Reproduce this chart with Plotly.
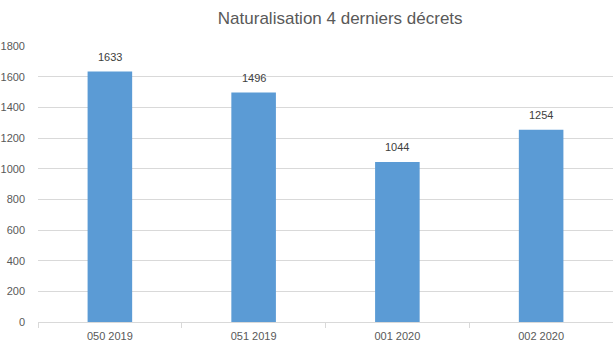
import plotly.graph_objects as go

categories = ["050 2019", "051 2019", "001 2020", "002 2020"]
values = [1633, 1496, 1044, 1254]
y_ticks = [0, 200, 400, 600, 800, 1000, 1200, 1400, 1600, 1800]

fig = go.Figure(go.Bar(
    x=categories, y=values, width=0.31,
    marker=dict(color="#5B9BD5", line=dict(width=0)),
    hoverinfo="x+y",
))
for c, v in zip(categories, values):
    fig.add_annotation(x=c, y=v, text=str(v), showarrow=False, yanchor="bottom",
                       yshift=7, font=dict(size=11, color="#404040"))
fig.update_layout(
    width=613, height=353,
    margin=dict(l=38, r=0, t=46, b=31),
    paper_bgcolor="white", plot_bgcolor="white",
    font=dict(family="Liberation Sans, Arial, sans-serif", size=11, color="#595959"),
    title=dict(text="Naturalisation 4 derniers décrets", x=0.555, xanchor="center",
               y=0.95, yanchor="middle", font=dict(size=17, color="#595959")),
    showlegend=False,
    bargap=0.69,
)
fig.update_yaxes(range=[0, 1800], tickvals=y_ticks, showgrid=True, gridcolor="#D9D9D9",
                 gridwidth=1, zeroline=False, showline=False, ticks="", ticklabelstandoff=12)
fig.update_xaxes(showline=True, linecolor="#D9D9D9", ticks="outside", tickson="boundaries",
                 ticklen=5, tickcolor="#D9D9D9", showgrid=False, ticklabelstandoff=4)
fig.write_html("out.html")
